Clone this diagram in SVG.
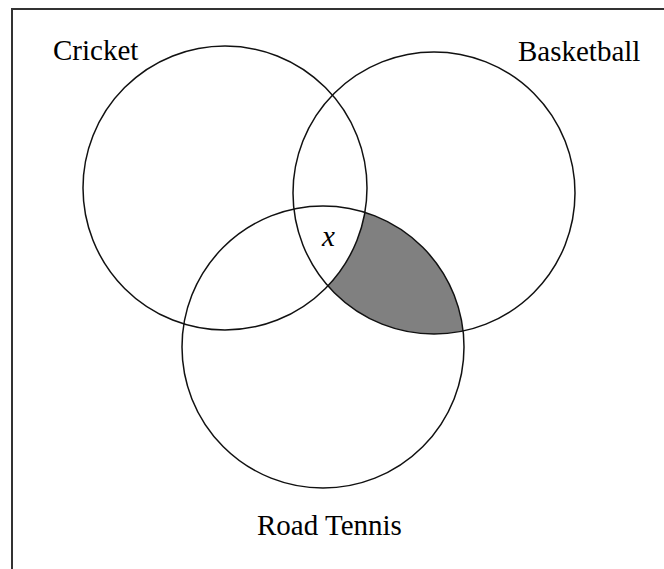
<svg xmlns="http://www.w3.org/2000/svg" width="664" height="569" viewBox="0 0 664 569">
<style>
.frame{fill:none;stroke:#333;stroke-width:2}
.set{fill:none;stroke:#111;stroke-width:1.5}
.lbl{font-family:"Liberation Serif","Times New Roman",serif;font-size:29px;fill:#000}
.shade{fill:#808080;stroke:none}
</style>
<rect width="664" height="569" fill="#fff"/>
<path class="frame" d="M12 569 V9 H664"/>
<g id="shaded-region">
<path class="shade" d="M364.9 212.4 A142 142 0 0 1 327.9 285.9 A141 141 0 0 0 463.1 331 A141 141 0 0 0 364.9 212.4 Z"/>
</g>
<g id="cricket">
<circle class="set" cx="225" cy="188" r="142"/>
<text class="lbl" x="53" y="60">Cricket</text>
</g>
<g id="basketball">
<circle class="set" cx="434" cy="193" r="141"/>
<text class="lbl" x="518" y="61">Basketball</text>
</g>
<g id="road-tennis">
<circle class="set" cx="323" cy="347" r="141"/>
<text class="lbl" x="257" y="535">Road Tennis</text>
</g>
<g id="x-label">
<text class="lbl" x="322" y="246" font-style="italic">x</text>
</g>
<g id="connectors"/>
</svg>
